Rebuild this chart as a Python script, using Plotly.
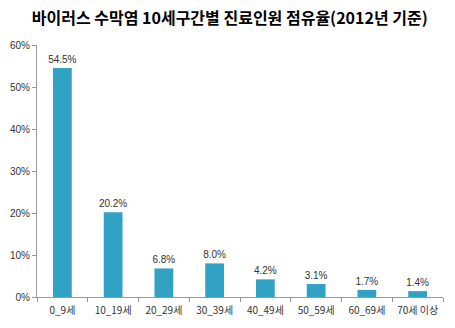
import plotly.graph_objects as go

categories = ["0_9세", "10_19세", "20_29세", "30_39세", "40_49세", "50_59세", "60_69세", "70세 이상"]
values = [54.5, 20.2, 6.8, 8.0, 4.2, 3.1, 1.7, 1.4]
labels = [f"{v:.1f}%" for v in values]
y_ticks = [0, 10, 20, 30, 40, 50, 60]
y_ticklabels = [f"{t}%" for t in y_ticks]

fig = go.Figure()
fig.add_trace(go.Bar(
    x=categories, y=values, text=labels, textposition="outside",
    constraintext="none",
    textfont=dict(size=10, color="#333333", family="Liberation Sans Narrow, Arial"),
    marker=dict(color="#31a2c4", line=dict(width=0)),
    width=0.37, cliponaxis=False,
))
fig.update_layout(
    width=455, height=328,
    margin=dict(l=37, r=12, t=45, b=31),
    paper_bgcolor="white", plot_bgcolor="white",
    showlegend=False,
    title=dict(text="<b>바이러스 수막염 10세구간별 진료인원 점유율(2012년 기준)</b>",
               x=0.505, xanchor="center", y=0.945, yanchor="middle",
               font=dict(size=16, color="#000000", family="Noto Sans CJK KR")),
    font=dict(family="Noto Sans CJK KR", color="#333333"),
)
fig.update_xaxes(
    type="category", showline=True, linecolor="#9a9a9a", linewidth=1,
    ticks="outside", tickson="boundaries", ticklen=4, tickcolor="#9a9a9a",
    ticklabelstandoff=4, automargin=False,
    tickfont=dict(size=10, color="#333333", family="Noto Sans CJK KR"),
    showgrid=False,
)
fig.update_yaxes(
    range=[0, 60], tickvals=y_ticks, ticktext=y_ticklabels,
    showline=True, linecolor="#9a9a9a", linewidth=1,
    ticks="outside", ticklen=4, tickcolor="#9a9a9a", automargin=False,
    tickfont=dict(size=10, color="#333333", family="Liberation Sans Narrow, Arial"),
    showgrid=False, zeroline=False,
)
fig.write_html("out.html")
